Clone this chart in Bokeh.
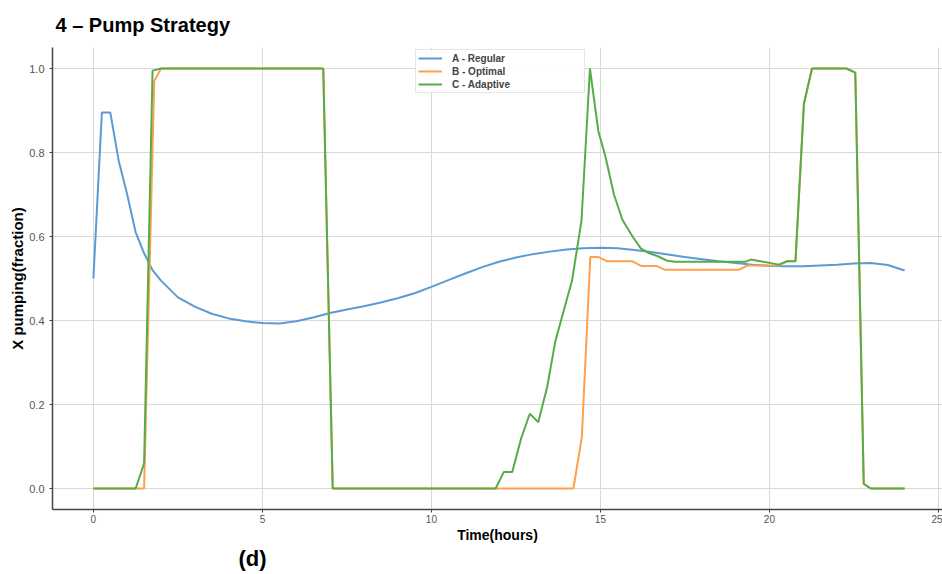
from bokeh.plotting import figure
from bokeh.models import Title, Legend, LegendItem, FixedTicker, Range1d
from bokeh.embed import file_html
from bokeh.resources import INLINE

# ---- data ----
t_regular = [0, 0.25, 0.5, 0.75, 1.0, 1.25, 1.5, 1.75, 2.0, 2.5, 3.0, 3.5, 4.0, 4.5,
             5.0, 5.5, 6.0, 6.5, 7.0, 7.5, 8.0, 8.5, 9.0, 9.5, 10.0, 10.5, 11.0, 11.5,
             12.0, 12.5, 13.0, 13.5, 14.0, 14.5, 15.0, 15.5, 16.0, 16.5, 17.0, 17.5,
             18.0, 18.5, 19.0, 19.5, 20.0, 20.5, 21.0, 21.5, 22.0, 22.5, 23.0, 23.5, 24.0]
x_regular = [0.50, 0.895, 0.895, 0.78, 0.70, 0.61, 0.56, 0.52, 0.495, 0.455, 0.433, 0.416,
             0.405, 0.398, 0.394, 0.393, 0.398, 0.407, 0.418, 0.426, 0.434, 0.443, 0.453,
             0.465, 0.480, 0.496, 0.512, 0.527, 0.540, 0.550, 0.558, 0.564, 0.569, 0.572,
             0.573, 0.572, 0.568, 0.563, 0.557, 0.551, 0.546, 0.541, 0.537, 0.533, 0.530,
             0.529, 0.529, 0.531, 0.533, 0.536, 0.537, 0.532, 0.519]

t_optimal = [0, 1.5, 1.8, 2.0, 6.8, 7.08, 14.2, 14.45, 14.7, 14.95, 15.2, 15.95, 16.2,
             16.65, 16.9, 19.1, 19.35, 20.28, 20.52, 20.77, 21.02, 21.26, 22.28, 22.54,
             22.79, 23.0, 24.0]
x_optimal = [0.0, 0.0, 0.97, 1.0, 1.0, 0.0, 0.0, 0.122, 0.551, 0.551, 0.541, 0.541, 0.530,
             0.530, 0.521, 0.521, 0.531, 0.531, 0.541, 0.541, 0.916, 1.0, 1.0, 0.99,
             0.011, 0.0, 0.0]

t_adaptive = [0, 1.25, 1.5, 1.75, 2.0, 6.8, 7.08, 11.9, 12.14, 12.39, 12.65, 12.91, 13.16,
              13.42, 13.67, 13.92, 14.16, 14.44, 14.69, 14.94, 15.15, 15.4, 15.65, 15.95,
              16.2, 16.45, 16.7, 16.95, 17.2, 19.3, 19.45, 19.73, 20.28, 20.52, 20.77,
              21.02, 21.26, 22.28, 22.54, 22.79, 23.0, 24.0]
x_adaptive = [0.0, 0.0, 0.06, 0.995, 1.0, 1.0, 0.0, 0.0, 0.039, 0.039, 0.118, 0.178, 0.158,
              0.24, 0.352, 0.425, 0.495, 0.638, 1.0, 0.85, 0.79, 0.70, 0.64, 0.60,
              0.571, 0.560, 0.553, 0.543, 0.540, 0.540, 0.545, 0.541, 0.533, 0.541, 0.541,
              0.916, 1.0, 1.0, 0.99, 0.011, 0.0, 0.0]

series_names = ["A - Regular", "B - Optimal", "C - Adaptive"]
series_colors = ["#5b9bd5", "#ffa04d", "#55ad48"]
x_ticks = [0, 5, 10, 15, 20, 25]
y_ticks = [0.0, 0.2, 0.4, 0.6, 0.8, 1.0]
title_text = "4 \u2013 Pump Strategy"
panel_tag = "(d)"

FONT = "Liberation Sans"

p = figure(width=942, height=574, output_backend="svg", toolbar_location=None,
           x_range=Range1d(-1.21, 25.12), y_range=Range1d(-0.05, 1.05),
           min_border_left=52, min_border_right=0, min_border_top=47, min_border_bottom=65)

p.title.text = title_text
p.title.text_font = FONT
p.title.text_font_style = "bold"
p.title.text_font_size = "20px"
p.title.text_color = "black"
p.title.align = "left"
p.title.offset = 3
p.title.standoff = 23

p.outline_line_color = None
p.background_fill_color = "white"
p.border_fill_color = "white"

r_a = p.line(t_regular, x_regular, line_color=series_colors[0], line_width=2)
r_b = p.line(t_optimal, x_optimal, line_color=series_colors[1], line_width=2)
r_c = p.line(t_adaptive, x_adaptive, line_color=series_colors[2], line_width=2)

for ax in (p.xaxis[0], p.yaxis[0]):
    ax.axis_line_color = "#444444"
    ax.axis_line_width = 1.5
    ax.major_tick_line_color = "#444444"
    ax.major_tick_in = 0
    ax.major_tick_out = 3
    ax.minor_tick_line_color = None
    ax.major_label_text_font = FONT
    ax.major_label_text_color = "#555555"
    ax.axis_label_text_font = FONT
    ax.axis_label_text_font_style = "bold"
    ax.axis_label_text_color = "black"

p.xaxis.ticker = FixedTicker(ticks=x_ticks)
p.yaxis.ticker = FixedTicker(ticks=y_ticks)
p.yaxis.major_label_overrides = {v: f"{v:.1f}" for v in y_ticks}
p.xaxis.major_label_text_font_size = "10px"
p.yaxis.major_label_text_font_size = "11px"
p.xaxis.major_label_standoff = 2
p.yaxis.major_label_standoff = 5
p.xaxis.axis_label = "Time(hours)"
p.xaxis.axis_label_text_font_size = "14px"
p.xaxis.axis_label_standoff = 1
p.yaxis.axis_label = "X pumping(fraction)"
p.yaxis.axis_label_text_font_size = "15px"
p.yaxis.axis_label_standoff = 0

p.xgrid.ticker = FixedTicker(ticks=x_ticks)
p.ygrid.ticker = FixedTicker(ticks=y_ticks)
p.grid.grid_line_color = "#d9d9d9"
p.grid.grid_line_width = 1

legend = Legend(items=[LegendItem(label=series_names[0], renderers=[r_a]),
                       LegendItem(label=series_names[1], renderers=[r_b]),
                       LegendItem(label=series_names[2], renderers=[r_c])],
                location=(363, 416))
legend.label_text_font = FONT
legend.label_text_font_style = "bold"
legend.label_text_font_size = "10px"
legend.label_height = 12
legend.label_width = 130
legend.glyph_height = 12
legend.glyph_width = 24
legend.label_standoff = 10
legend.spacing = 1
legend.padding = 2
legend.margin = 0
legend.border_line_color = "#cccccc"
legend.border_line_width = 1
legend.background_fill_alpha = 0.9
p.add_layout(legend)

p.add_layout(Title(text=panel_tag, align="left", offset=186, text_font=FONT,
                   text_font_style="bold", text_font_size="22px", text_color="black",
                   standoff=0, vertical_align="top"), "below")

open("out.html", "w").write(file_html(p, INLINE))
